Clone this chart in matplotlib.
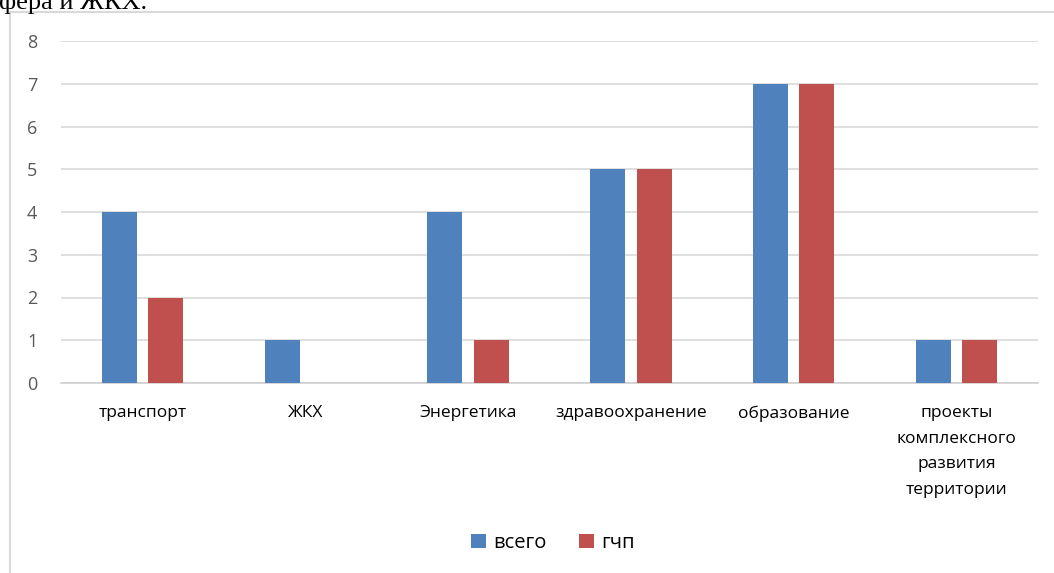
import matplotlib
matplotlib.use("Agg")
import matplotlib.pyplot as plt
import numpy as np
from matplotlib.patches import Rectangle

plt.rcParams['font.family'] = ['Open Sans', 'DejaVu Sans']

categories = ["транспорт", "ЖКХ", "Энергетика", "здравоохранение", "образование",
              "проекты\nкомплексного\nразвития\nтерритории"]
total = [4, 1, 4, 5, 7, 1]
ppp = [2, 0, 1, 5, 7, 1]
series_names = ["всего", "гчп"]
y_ticks = [0, 1, 2, 3, 4, 5, 6, 7, 8]

blue = "#4F81BD"
red = "#C0504D"

fig = plt.figure(figsize=(10.54, 5.73), dpi=100)
W, H = 1054, 573

# surrounding text line of the document and chart frame
fig.text(-1 / W, 1 - 2 / H, "фера и ЖКХ.", family="Liberation Serif", fontsize=19,
         va="center", ha="left", color="black")
fig.patches.append(Rectangle((10 / W, -0.05), 1.2, 1 - 12 / H + 0.05,
                             transform=fig.transFigure, fill=False,
                             edgecolor="#d9d9d9", linewidth=1.5))

left, right = 61, 1038
ax = fig.add_axes([left / W, 1 - 383 / H, (right - left) / W, (383 - 41) / H])
x = np.arange(len(categories))
w = 0.215
off = 0.142
ax.bar(x - off, total, width=w, color=blue, label=series_names[0], zorder=3)
ax.bar(x + off, ppp, width=w, color=red, label=series_names[1], zorder=3)

ax.set_xlim(-0.5, len(categories) - 0.5)
ax.set_ylim(0, 8)
ax.set_yticks(y_ticks)
ax.yaxis.grid(True, color="#d9d9d9", linewidth=1.2, zorder=0)
ax.set_axisbelow(True)
for s in ["top", "right", "left"]:
    ax.spines[s].set_visible(False)
ax.spines["bottom"].set_color("#d0d0d0")
ax.spines["bottom"].set_linewidth(1.2)
ax.tick_params(axis="y", length=0, pad=17, labelsize=13, labelcolor="#595959")
ax.tick_params(axis="x", length=0, pad=16, labelsize=12.5, labelcolor="#000000")
ax.set_xticks(x)
ax.set_xticklabels(categories, linespacing=1.8)

fig.legend(loc="center", bbox_to_anchor=(553 / W, 1 - 543 / H), ncol=2, frameon=False,
           fontsize=14.5, handlelength=0.75, handleheight=0.75, handletextpad=0.35,
           columnspacing=1.6)

fig.savefig("out.png", dpi=100, facecolor="white")
